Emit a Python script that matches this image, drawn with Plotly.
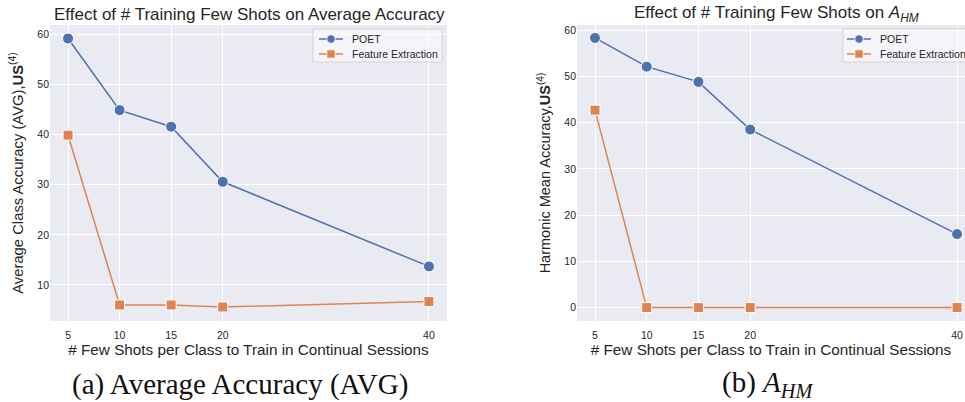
import plotly.graph_objects as go

# Few-shot counts used in the continual sessions
shots = [5, 10, 15, 20, 40]

# (a) Average class accuracy (AVG)
avg_poet = [59.2, 44.9, 41.6, 30.6, 13.7]
avg_fe = [39.9, 6.0, 6.0, 5.6, 6.7]

# (b) Harmonic mean accuracy A_HM
hm_poet = [58.3, 52.1, 48.8, 38.5, 15.9]
hm_fe = [42.7, 0.0, 0.0, 0.0, 0.0]

x_ticks = [5, 10, 15, 20, 40]
series_names = ["POET", "Feature Extraction"]

BLUE = "#4c72b0"
ORANGE = "#dd8452"
BG = "#eaeaf2"
TXT = "#262626"
FONT = "Liberation Sans, Arial, sans-serif"
SERIF = "Liberation Serif, serif"

W, H = 965, 402
M_T, M_B = 25, 81
PLOT_H = H - M_T - M_B


def px_x(px):
    """Pixel column -> paper x (no side margins)."""
    return px / W


def px_y(px):
    """Pixel row -> paper y."""
    return 1 - (px - M_T) / PLOT_H


fig = go.Figure()


def add_series(xa, ya, poet, fe):
    fig.add_trace(go.Scatter(
        x=shots, y=poet, name=series_names[0], mode="lines+markers",
        xaxis=xa, yaxis=ya,
        line=dict(color=BLUE, width=1.5),
        marker=dict(symbol="circle", size=11, color=BLUE,
                    line=dict(color="white", width=1)),
    ))
    fig.add_trace(go.Scatter(
        x=shots, y=fe, name=series_names[1], mode="lines+markers",
        xaxis=xa, yaxis=ya,
        line=dict(color=ORANGE, width=1.5),
        marker=dict(symbol="square", size=10, color=ORANGE,
                    line=dict(color="white", width=1)),
    ))


add_series("x", "y", avg_poet, avg_fe)
add_series("x2", "y2", hm_poet, hm_fe)

axis_common = dict(
    showgrid=True, gridcolor="white", gridwidth=1.2, zeroline=False,
    showline=False, ticks="", tickfont=dict(family=FONT, size=10.5, color=TXT),
)
xtitle = "# Few Shots per Class to Train in Continual Sessions"
title_font = dict(family=FONT, size=15.3, color=TXT)

shapes = []
annotations = []


def add_legend(box_l, box_r, box_t, box_b, sym_l, sym_r, text_l, rows):
    """Seaborn-style legend box with line+marker handles."""
    shapes.append(dict(type="rect", xref="paper", yref="paper", layer="above",
                       x0=px_x(box_l), x1=px_x(box_r), y0=px_y(box_b), y1=px_y(box_t),
                       fillcolor="rgba(255,255,255,0.5)",
                       line=dict(color="#d2d2d8", width=1)))
    mid = (sym_l + sym_r) / 2
    for row_y, name, color, kind in rows:
        shapes.append(dict(type="line", xref="paper", yref="paper", layer="above",
                           x0=px_x(sym_l), x1=px_x(sym_r), y0=px_y(row_y), y1=px_y(row_y),
                           line=dict(color=color, width=1.5)))
        r = 4.2
        shapes.append(dict(type=kind, xref="paper", yref="paper", layer="above",
                           x0=px_x(mid - r), x1=px_x(mid + r),
                           y0=px_y(row_y + r), y1=px_y(row_y - r),
                           fillcolor=color, line=dict(color="white", width=0.8)))
        annotations.append(dict(text=name, xref="paper", yref="paper",
                                x=px_x(text_l), y=px_y(row_y), showarrow=False,
                                xanchor="left", yanchor="middle",
                                font=dict(family=FONT, size=10.5, color=TXT)))


rows = [(39, series_names[0], BLUE, "circle"), (54, series_names[1], ORANGE, "rect")]
add_legend(313, 442, 29, 62, 319, 343, 350, rows)
add_legend(843, 990, 29, 62, 847, 871, 878, rows)

annotations += [
    dict(text="Effect of # Training Few Shots on Average Accuracy",
         xref="paper", yref="paper", x=px_x(250), y=px_y(14), showarrow=False,
         xanchor="center", yanchor="middle",
         font=dict(family=FONT, size=17, color=TXT)),
    dict(text="Effect of # Training Few Shots on <i>A</i><sub><i>HM</i></sub>",
         xref="paper", yref="paper", x=px_x(776), y=px_y(14), showarrow=False,
         xanchor="center", yanchor="middle",
         font=dict(family=FONT, size=17, color=TXT)),
    dict(text="(a) Average Accuracy (AVG)",
         xref="paper", yref="paper", x=px_x(240), y=px_y(384), showarrow=False,
         xanchor="center", yanchor="middle",
         font=dict(family=SERIF, size=29, color="#111111")),
    dict(text="(b) <i>A</i><sub><i>HM</i></sub>",
         xref="paper", yref="paper", x=px_x(767), y=px_y(384), showarrow=False,
         xanchor="center", yanchor="middle",
         font=dict(family=SERIF, size=29, color="#111111")),
]

fig.update_layout(
    width=W, height=H, showlegend=False,
    margin=dict(l=0, r=0, t=M_T, b=M_B, autoexpand=False),
    paper_bgcolor="white", plot_bgcolor=BG,
    font=dict(family=FONT, color=TXT),
    xaxis=dict(domain=[px_x(50), px_x(447)], range=[3.25, 41.75],
               tickvals=x_ticks, ticklabelstandoff=6,
               title=dict(text=xtitle, font=title_font, standoff=4),
               **axis_common),
    yaxis=dict(domain=[0, 1], range=[2.8, 61.9], tickvals=[10, 20, 30, 40, 50, 60],
               anchor="x",
               title=dict(text="Average Class Accuracy (AVG),<b>US</b><sup>(4)</sup>",
                          font=dict(family=FONT, size=14.8, color=TXT), standoff=10),
               **axis_common),
    xaxis2=dict(domain=[px_x(577), 1], range=[3.26, 40.77],
                tickvals=x_ticks, anchor="y2", ticklabelstandoff=6,
                title=dict(text=xtitle, font=title_font, standoff=4),
                **axis_common),
    yaxis2=dict(domain=[0, 1], range=[-2.9, 61.1], tickvals=[0, 10, 20, 30, 40, 50, 60],
                anchor="x2",
                title=dict(text="Harmonic Mean Accuracy,<b>US</b><sup>(4)</sup>",
                           font=dict(family=FONT, size=14.5, color=TXT), standoff=10),
                **axis_common),
    shapes=shapes,
    annotations=annotations,
)

fig.write_html("out.html")
